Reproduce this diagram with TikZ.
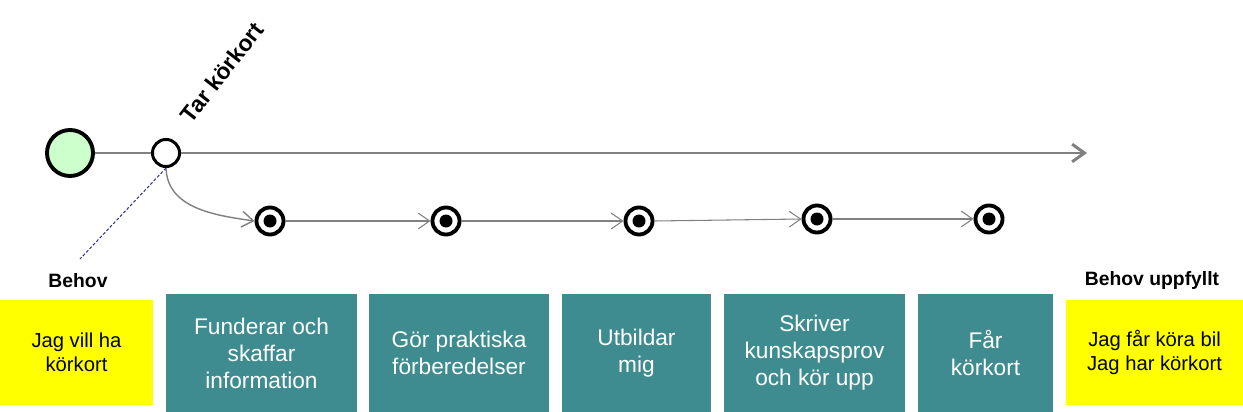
\documentclass[tikz,border=0pt]{standalone}
\usepackage{fontspec}
\setmainfont{Liberation Sans}
\usetikzlibrary{arrows.meta, positioning}
\definecolor{tealbox}{RGB}{62,140,144}
\definecolor{needyellow}{RGB}{255,255,0}
\definecolor{startgreen}{RGB}{204,255,204}
\definecolor{flowgray}{RGB}{128,128,128}
\definecolor{linkblue}{RGB}{51,51,153}
\tikzset{
  stepbox/.style  = {fill=tealbox, text=white, align=center, inner sep=2pt,
                     minimum height=2.36cm, font=\fontsize{12.9}{15.4}\selectfont},
  needbox/.style  = {fill=needyellow, text=black, align=center, inner sep=2pt,
                     minimum height=2.10cm, font=\fontsize{11.5}{13.7}\selectfont},
  target/.style   = {circle, draw=black, line width=2.2pt, fill=white,
                     minimum size=15.4pt, inner sep=0pt,
                     path picture={\fill[black] (path picture bounding box.center)
                                   circle[radius=3.7pt];}},
  mainline/.style = {draw=flowgray, line width=1.7pt},
  flow/.style     = {->, >={Straight Barb[length=6.5pt,width=9pt]},
                     draw=flowgray, line width=0.6pt},
  title/.style    = {font=\fontsize{11}{13}\selectfont\bfseries, inner sep=0pt},
}

\begin{document}
\begin{tikzpicture}[x=0.02cm, y=-0.02cm]
  \useasboundingbox (0,0) rectangle (1243,412);
  % time line
  \node[circle, draw=black, line width=2.2pt, fill=startgreen,
        minimum size=26.2pt, inner sep=0pt] (start) at (70,153) {};
  \node[circle, draw=black, line width=1.7pt, fill=white,
        minimum size=15.4pt, inner sep=0pt] (tar) at (166,153) {};
  \coordinate (end) at (1087,153);
  \draw[mainline] (start) -- (tar);
  \draw[mainline, -{Straight Barb[length=7pt,width=10pt]}] (tar) -- (end);
  \node[title, font=\fontsize{13}{15}\selectfont\bfseries, rotate=52,
        anchor=south west] (tarlbl) at (192,125) {Tar körkort};
  % process steps
  \foreach \i/\x/\y in {1/270/221, 2/446/221, 3/639/221, 4/817/219, 5/989/219} {
    \node[target] (t\i) at (\x,\y) {};
  }
  \draw[flow, line width=0.8pt] (tar.south) to[out=-88, in=172] (t1.west);
  \foreach \i/\j in {1/2, 2/3, 3/4, 4/5} {
    \draw[flow] (t\i.east) -- (t\j.west);
  }
  % need
  \node[title] (behov) at (78,281) {Behov};
  \coordinate (needpt) at (80,259);
  \draw[linkblue, line width=0.6pt, dash pattern=on 1.7pt off 1.1pt]
    (tar.south) -- (needpt);
  \node[title] (uppfyllt) at (1152,281) {Behov uppfyllt};
  % boxes
  \node[needbox, minimum width=3.06cm] (jag) at (76.5,352.5)
    {Jag vill ha\\körkort};
  \foreach \n/\x/\w/\txt in {b1/261.5/3.82/{Funderar och\\skaffar\\information},
                             b2/459/3.60/{Gör praktiska\\förberedelser},
                             b3/636.5/2.98/{Utbildar\\mig},
                             b4/814.5/3.62/{Skriver\\kunskapsprov\\och kör upp},
                             b5/985.5/2.70/{Får\\körkort}} {
    \node[stepbox, minimum width=\w cm] (\n) at (\x,353) {\txt};
  }
  \node[needbox, minimum width=3.54cm] (bil) at (1154.5,352.5)
    {Jag får köra bil\\Jag har körkort};
\end{tikzpicture}
\end{document}
